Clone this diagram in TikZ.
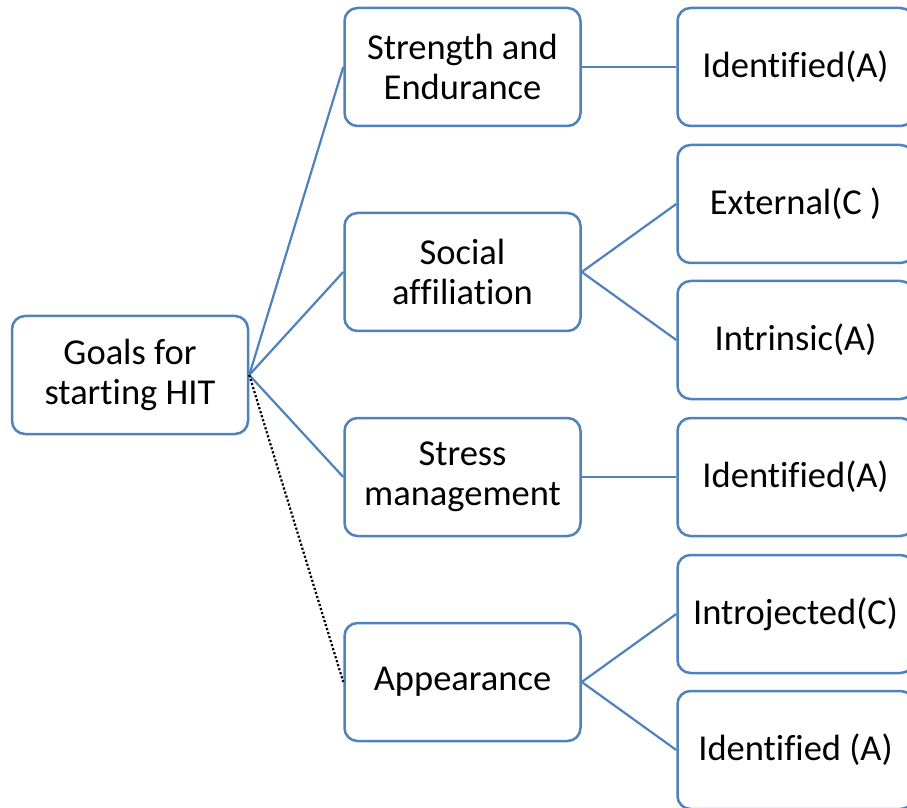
\documentclass[tikz,border=0pt]{standalone}
\usepackage{fontspec}
\setmainfont{Carlito}[Ligatures={NoCommon,NoContextual,NoRequired}]
\definecolor{boxblue}{RGB}{79,129,189}
\newcommand{\nl}{\kern0pt}
\begin{document}
\begin{tikzpicture}[x=1pt,y=1pt,
  box/.style={draw=boxblue, line width=2.5pt, rounded corners=13pt, fill=white,
    minimum width=236pt, minimum height=118pt, align=center, inner sep=0pt,
    font=\fontsize{36.5}{40.5}\selectfont},
  link/.style={draw=boxblue, line width=2.2pt},
  dotlink/.style={draw=black, line width=2.2pt, dotted}]
\useasboundingbox (0,0) rectangle (907,807);
\clip (0,0) rectangle (907,807);
\node[box] (root) at (130,432) {Goals for\\start\nl ing HIT};
\node[box] (se) at (462.5,740) {Strength and\\Endurance};
\node[box] (sa) at (462.5,535) {Social\\af\nl f\nl iliat\nl ion};
\node[box] (sm) at (462.5,330) {Stress\\management};
\node[box] (ap) at (462.5,125) {Appearance};
\node[box] (id1) at (795.5,740) {Ident\nl if\nl ied(A)};
\node[box] (ex) at (795.5,603) {External(C )};
\node[box] (in) at (795.5,467) {Intrinsic(A)};
\node[box] (id2) at (795.5,330) {Ident\nl if\nl ied(A)};
\node[box] (ij) at (795.5,193) {Introjected(C)};
\node[box] (id3) at (795.5,57) {Ident\nl if\nl ied (A)};
\draw[link] (root.east) -- (se.west);
\draw[link] (root.east) -- (sa.west);
\draw[link] (root.east) -- (sm.west);
\draw[dotlink] (root.east) -- (ap.west);
\draw[link] (se.east) -- (id1.west);
\draw[link] (sa.east) -- (ex.west);
\draw[link] (sa.east) -- (in.west);
\draw[link] (sm.east) -- (id2.west);
\draw[link] (ap.east) -- (ij.west);
\draw[link] (ap.east) -- (id3.west);
\end{tikzpicture}
\end{document}
